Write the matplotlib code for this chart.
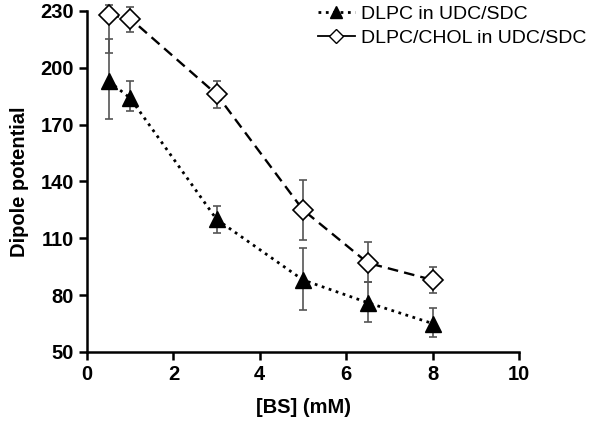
import numpy as np
import matplotlib
matplotlib.use('Agg')
import matplotlib.pyplot as plt

plt.rcParams['font.family'] = ['Liberation Sans', 'DejaVu Sans']

# data
bs_conc = [0.5, 1, 3, 5, 6.5, 8]

dlpc = [193, 184, 120, 88, 76, 65]
dlpc_err_lo = [20, 7, 7, 16, 10, 7]
dlpc_err_hi = [22, 9, 7, 17, 11, 8]

chol = [228, 226, 186, 125, 97, 88]
chol_err_lo = [20, 7, 7, 16, 10, 7]
chol_err_hi = [5, 6, 7, 16, 11, 7]

fig = plt.figure(figsize=(6, 4.23), dpi=100)
ax = fig.add_axes([0.145, 0.168, 0.72, 0.806])

ax.errorbar(bs_conc, dlpc, yerr=[dlpc_err_lo, dlpc_err_hi], fmt='^', color='black',
            ms=11, ecolor='#555555', elinewidth=1.2, capsize=3, capthick=1.2,
            zorder=3, clip_on=False)
ax.plot(bs_conc, dlpc, ':', color='black', lw=2, zorder=2)
ax.errorbar(bs_conc, chol, yerr=[chol_err_lo, chol_err_hi], fmt='D', color='black',
            mfc='white', mec='black', ms=10, mew=1.2, ecolor='#555555',
            elinewidth=1.2, capsize=3, capthick=1.2, zorder=3, clip_on=False)
ax.plot(bs_conc, chol, '--', color='black', lw=1.7, dashes=(4.5, 2.6), zorder=2)

# legend handles
h1, = ax.plot([], [], ':', color='black', marker='^', ms=8, lw=2)
h2, = ax.plot([], [], '-', color='black', marker='D', mfc='white', ms=7, lw=1.3)
fig.legend([h1, h2], ['DLPC in UDC/SDC', 'DLPC/CHOL in UDC/SDC'], loc='upper left',
           bbox_to_anchor=(318 / 600, 1 - 5 / 423), frameon=False, fontsize=14,
           handlelength=1.9, handletextpad=0.3, labelspacing=0.35,
           borderpad=0, borderaxespad=0)

ax.set_xlim(0, 10)
ax.set_ylim(50, 230)
ax.set_xticks([0, 2, 4, 6, 8, 10])
ax.set_yticks([50, 80, 110, 140, 170, 200, 230])
ax.spines['top'].set_visible(False)
ax.spines['right'].set_visible(False)
ax.spines['left'].set_linewidth(1.8)
ax.spines['bottom'].set_linewidth(1.8)
ax.tick_params(width=1.8, length=6, labelsize=14.5)
for lbl in ax.get_xticklabels() + ax.get_yticklabels():
    lbl.set_fontweight('bold')
ax.set_xlabel('[BS] (mM)', fontsize=14.5, fontweight='bold', labelpad=10)
ax.set_ylabel('Dipole potential', fontsize=14.5, fontweight='bold', labelpad=8)

fig.savefig('out.png', dpi=100)
